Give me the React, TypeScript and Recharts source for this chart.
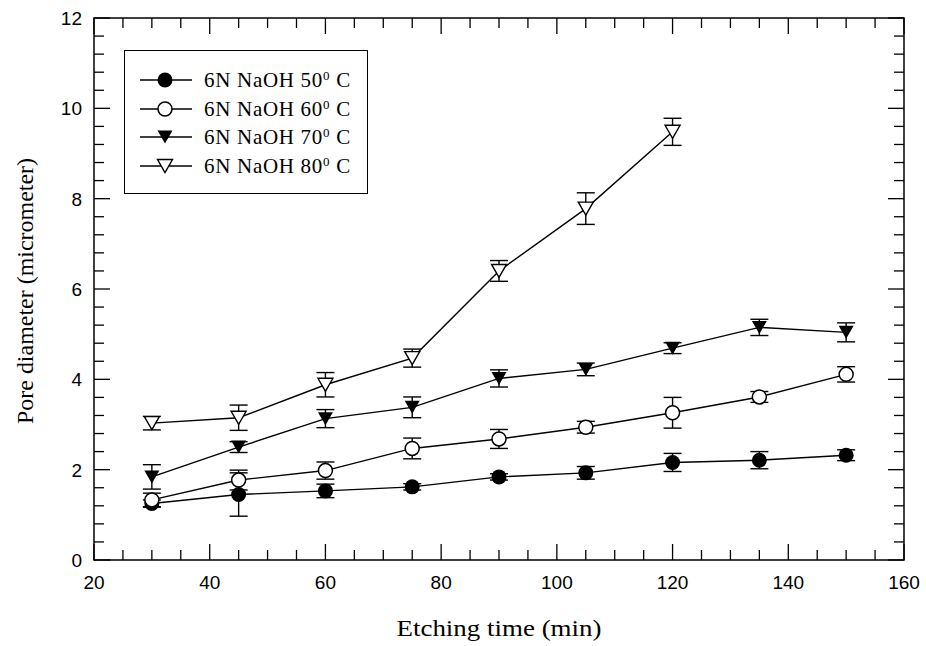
import React from "react";
import {
  ComposedChart,
  Line,
  XAxis,
  YAxis,
  ErrorBar,
  ReferenceArea,
  Label,
} from "recharts";

// etching time (min)
const times = [30, 45, 60, 75, 90, 105, 120, 135, 150];

// pore diameter (micrometer) and error for each bath temperature
const pore50 = [1.25, 1.45, 1.53, 1.62, 1.84, 1.93, 2.16, 2.21, 2.32];
const err50 = [0.08, 0.48, 0.15, 0.07, 0.07, 0.14, 0.2, 0.19, 0.12];
const pore60 = [1.33, 1.77, 1.98, 2.47, 2.68, 2.94, 3.26, 3.61, 4.11];
const err60 = [0.15, 0.22, 0.19, 0.23, 0.21, 0.13, 0.34, 0.12, 0.17];
const pore70 = [1.84, 2.5, 3.13, 3.38, 4.02, 4.22, 4.69, 5.15, 5.04];
const err70 = [0.27, 0.12, 0.2, 0.23, 0.19, 0.14, 0.12, 0.18, 0.21];
const pore80 = [3.03, 3.15, 3.88, 4.47, 6.4, 7.78, 9.48];
const err80 = [0.15, 0.28, 0.27, 0.2, 0.23, 0.35, 0.3];

const legendLabels = ["6N NaOH 50", "6N NaOH 60", "6N NaOH 70", "6N NaOH 80"];

const xTicks = [
  20, 25, 30, 35, 40, 45, 50, 55, 60, 65, 70, 75, 80, 85, 90, 95, 100, 105,
  110, 115, 120, 125, 130, 135, 140, 145, 150, 155, 160,
];
const yTicks = [
  0, 0.4, 0.8, 1.2, 1.6, 2, 2.4, 2.8, 3.2, 3.6, 4, 4.4, 4.8, 5.2, 5.6, 6, 6.4,
  6.8, 7.2, 7.6, 8, 8.4, 8.8, 9.2, 9.6, 10, 10.4, 10.8, 11.2, 11.6, 12,
];

const rows = times.map((t, i) => ({
  t,
  p50: pore50[i],
  e50: err50[i],
  p60: pore60[i],
  e60: err60[i],
  p70: pore70[i],
  e70: err70[i],
  p80: pore80[i],
  e80: err80[i],
}));

type Kind = "filledCircle" | "openCircle" | "filledTri" | "openTri";

const series: { key: string; err: string; kind: Kind }[] = [
  { key: "p50", err: "e50", kind: "filledCircle" },
  { key: "p60", err: "e60", kind: "openCircle" },
  { key: "p70", err: "e70", kind: "filledTri" },
  { key: "p80", err: "e80", kind: "openTri" },
];

// plot box in page pixels (chart sits at 0,0)
const LEFT = 94;
const RIGHT = 904;
const TOP = 18;
const BOTTOM = 560;
const MAJOR = 16;
const MINOR = 10;

const sans = "'Liberation Sans', Arial, sans-serif";
const serif = "'Liberation Serif', 'Times New Roman', serif";

const isMajor = (v: number, step: number) =>
  Math.abs(v / step - Math.round(v / step)) < 1e-6;

function Marker({ cx, cy, kind }: { cx: number; cy: number; kind: Kind }) {
  if (cx == null || cy == null || isNaN(cy)) return <g />;
  if (kind === "filledCircle")
    return <circle cx={cx} cy={cy} r={7.5} fill="#000" />;
  if (kind === "openCircle")
    return (
      <circle cx={cx} cy={cy} r={7} fill="#fff" stroke="#000" strokeWidth={1.5} />
    );
  const pts = `${cx - 7.5},${cy - 6.5} ${cx + 7.5},${cy - 6.5} ${cx},${cy + 6.5}`;
  if (kind === "filledTri") return <polygon points={pts} fill="#000" />;
  return <polygon points={pts} fill="#fff" stroke="#000" strokeWidth={1.4} />;
}

function XTick(props: any) {
  const { x, payload } = props;
  const v = payload.value;
  const major = isMajor(v, 20);
  const len = major ? MAJOR : MINOR;
  return (
    <g>
      <line x1={x} x2={x} y1={BOTTOM} y2={BOTTOM - len} stroke="#000" strokeWidth={1.3} />
      <line x1={x} x2={x} y1={TOP} y2={TOP + len} stroke="#000" strokeWidth={1.3} />
      {major && (
        <text x={x} y={BOTTOM + 29} textAnchor="middle" fontFamily={sans} fontSize={19} fill="#000">
          {v}
        </text>
      )}
    </g>
  );
}

function YTick(props: any) {
  const { y, payload } = props;
  const v = payload.value;
  const major = isMajor(v, 2);
  const len = major ? MAJOR : MINOR;
  return (
    <g>
      <line x1={LEFT} x2={LEFT + len} y1={y} y2={y} stroke="#000" strokeWidth={1.3} />
      <line x1={RIGHT} x2={RIGHT - len} y1={y} y2={y} stroke="#000" strokeWidth={1.3} />
      {major && (
        <text x={LEFT - 12} y={y + 7} textAnchor="end" fontFamily={sans} fontSize={19} fill="#000">
          {Math.round(v)}
        </text>
      )}
    </g>
  );
}

function LegendBox() {
  return (
    <div
      style={{
        position: "absolute",
        left: 124,
        top: 50,
        width: 242,
        height: 142,
        border: "1px solid #000",
        background: "#fff",
        fontFamily: serif,
        fontSize: 21,
        letterSpacing: 0.7,
      }}
    >
      {series.map((s, i) => (
        <div
          key={s.key}
          style={{
            position: "absolute",
            left: 15,
            top: 15 + i * 28.5,
            height: 28,
            display: "flex",
            alignItems: "center",
            whiteSpace: "nowrap",
          }}
        >
          <svg width={54} height={20} style={{ display: "block" }}>
            <line x1={0} x2={52} y1={10} y2={10} stroke="#000" strokeWidth={1.4} />
            <Marker cx={25} cy={10} kind={s.kind} />
          </svg>
          <span style={{ marginLeft: 10, lineHeight: "28px" }}>
            {legendLabels[i]}
            <sup style={{ fontSize: 13, verticalAlign: "7px", lineHeight: 0 }}>0</sup> C
          </span>
        </div>
      ))}
    </div>
  );
}

export default function App() {
  return (
    <div
      style={{
        position: "absolute",
        left: 0,
        top: 0,
        width: 926,
        height: 646,
        background: "#fff",
      }}
    >
      <ComposedChart
        width={926}
        height={646}
        data={rows}
        margin={{ top: TOP, right: 926 - RIGHT, bottom: 26, left: LEFT - 60 }}
      >
        <XAxis
          dataKey="t"
          type="number"
          domain={[20, 160]}
          ticks={xTicks}
          interval={0}
          tick={<XTick />}
          tickLine={false}
          axisLine={false}
          height={60}
        >
          <Label
            content={() => (
              <text
                x={(LEFT + RIGHT) / 2}
                y={636}
                textAnchor="middle"
                fontFamily={serif}
                fontSize={23}
                textLength={205}
                lengthAdjust="spacingAndGlyphs"
                fill="#000"
              >
                Etching time (min)
              </text>
            )}
          />
        </XAxis>
        <YAxis
          type="number"
          domain={[0, 12]}
          ticks={yTicks}
          interval={0}
          tick={<YTick />}
          tickLine={false}
          axisLine={false}
          width={60}
        >
          <Label
            content={() => (
              <text
                transform="translate(33, 291) rotate(-90)"
                textAnchor="middle"
                fontFamily={serif}
                fontSize={23}
                textLength={266}
                lengthAdjust="spacingAndGlyphs"
                fill="#000"
              >
                Pore diameter (micrometer)
              </text>
            )}
          />
        </YAxis>
        <ReferenceArea
          x1={20}
          x2={160}
          y1={0}
          y2={12}
          fill="none"
          stroke="#000"
          strokeWidth={1.5}
          ifOverflow="visible"
        />
        {series.map((s) => (
          <Line
            key={s.key}
            dataKey={s.key}
            type="linear"
            stroke="#000"
            strokeWidth={1.4}
            isAnimationActive={false}
            activeDot={false}
            dot={(p: any) => (
              <Marker key={`${s.key}-${p.index}`} cx={p.cx} cy={p.cy} kind={s.kind} />
            )}
          >
            <ErrorBar dataKey={s.err} direction="y" width={9} stroke="#000" strokeWidth={1.4} />
          </Line>
        ))}
      </ComposedChart>
      <LegendBox />
    </div>
  );
}
